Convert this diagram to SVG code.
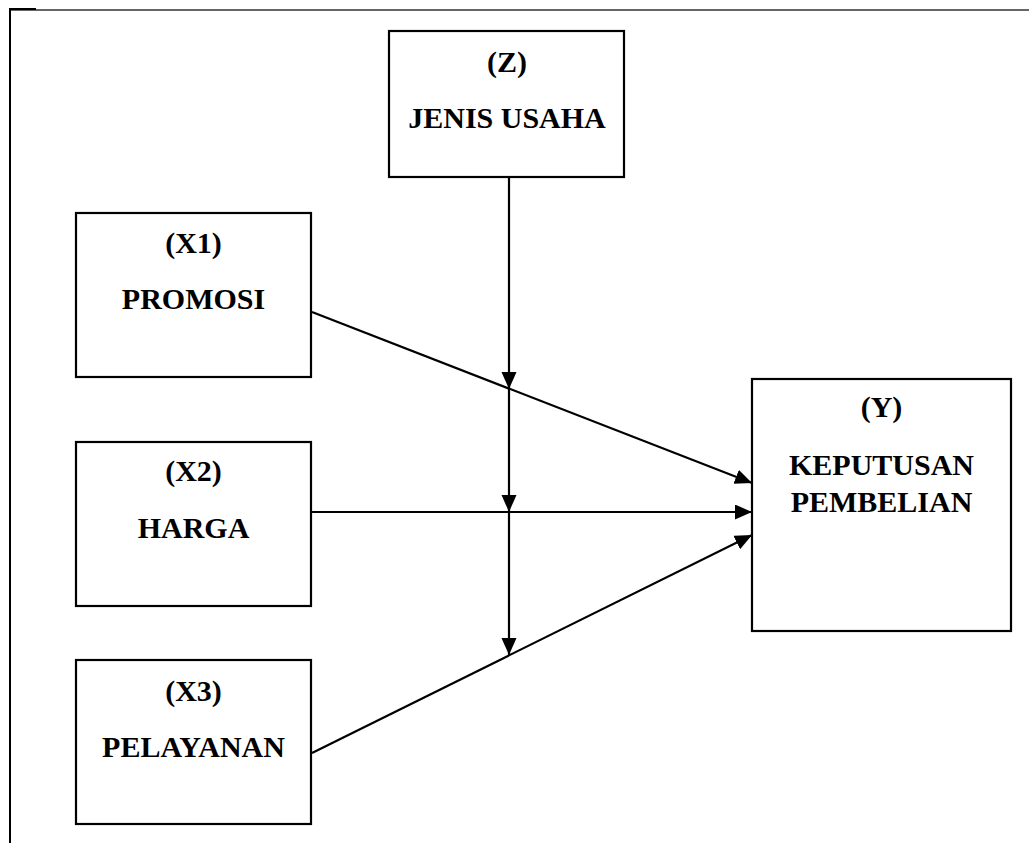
<svg xmlns="http://www.w3.org/2000/svg" width="1029" height="843" viewBox="0 0 1029 843">
<defs>
<marker id="arr" markerUnits="userSpaceOnUse" markerWidth="20" markerHeight="18" refX="17" refY="7.5" orient="auto">
<path d="M0,0 L17,7.5 L0,15 Z" fill="#000"/>
</marker>
<style>
.box{fill:#fff;stroke:#000;stroke-width:2.2}
.t{font-family:"Liberation Serif","Times New Roman",serif;font-weight:bold;font-size:30px;fill:#000;text-anchor:middle}
.c{stroke:#000;stroke-width:2.2;fill:none;marker-end:url(#arr)}
</style>
</defs>
<rect width="1029" height="843" fill="#fff"/>
<g id="frame">
<line x1="10" y1="10" x2="1029" y2="10" stroke="#333" stroke-width="1.3"/>
<line x1="10" y1="8" x2="10" y2="843" stroke="#000" stroke-width="2"/>
<line x1="9" y1="9" x2="36" y2="9" stroke="#000" stroke-width="2"/>
</g>
<g id="node-z">
<rect class="box" x="389" y="31" width="235" height="146"/>
<text class="t" x="507" y="72">(Z)</text>
<text class="t" x="507" y="128">JENIS USAHA</text>
</g>
<g id="node-x1">
<rect class="box" x="76" y="213" width="235" height="164"/>
<text class="t" x="193.5" y="253">(X1)</text>
<text class="t" x="193.5" y="309">PROMOSI</text>
</g>
<g id="node-x2">
<rect class="box" x="76" y="442" width="235" height="164"/>
<text class="t" x="193.5" y="481">(X2)</text>
<text class="t" x="193.5" y="538">HARGA</text>
</g>
<g id="node-x3">
<rect class="box" x="76" y="660" width="235" height="164"/>
<text class="t" x="193.5" y="701">(X3)</text>
<text class="t" x="193.5" y="757">PELAYANAN</text>
</g>
<g id="node-y">
<rect class="box" x="752" y="379" width="259" height="252"/>
<text class="t" x="881.5" y="417">(Y)</text>
<text class="t" x="881.5" y="475">KEPUTUSAN</text>
<text class="t" x="881.5" y="512">PEMBELIAN</text>
</g>
<g id="connectors">
<line class="c" x1="312" y1="312" x2="752" y2="483"/>
<line class="c" x1="312" y1="512" x2="752" y2="512"/>
<line class="c" x1="312" y1="753" x2="752" y2="535"/>
<line class="c" x1="509" y1="177" x2="509" y2="389"/>
<line class="c" x1="509" y1="389" x2="509" y2="512"/>
<line class="c" x1="509" y1="512" x2="509" y2="655"/>
</g>
</svg>
